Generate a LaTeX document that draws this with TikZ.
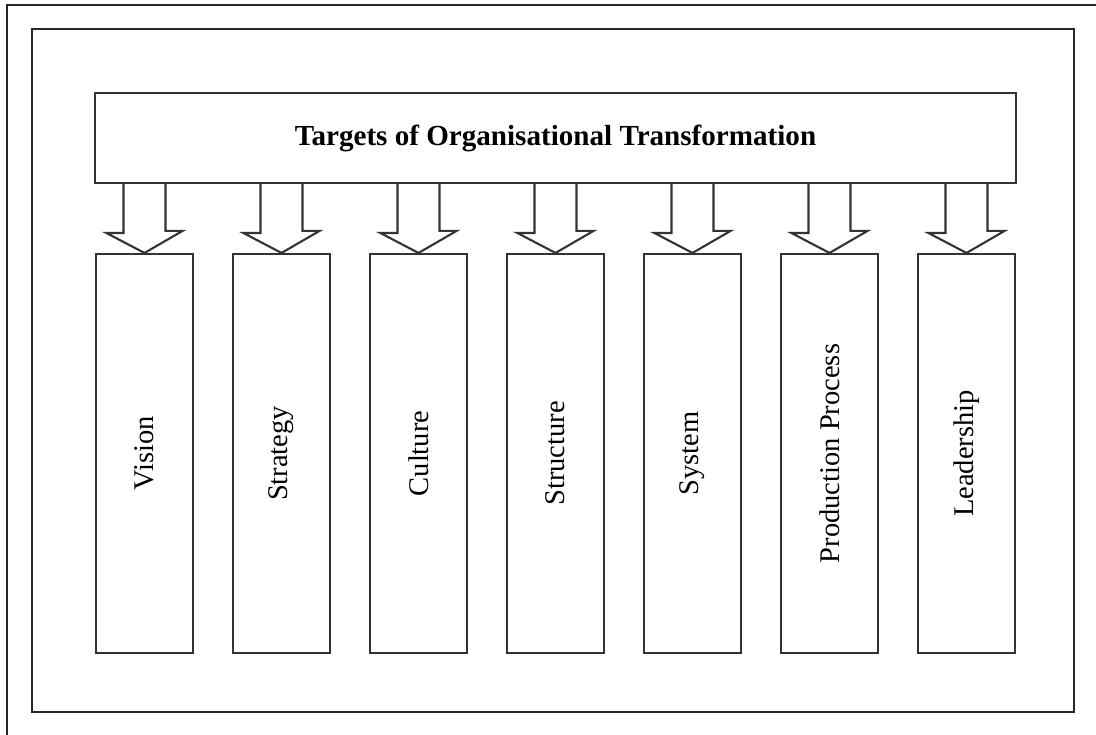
\documentclass[tikz,border=0pt]{standalone}
\usepackage{fontspec}
\setmainfont{Liberation Serif}
\usetikzlibrary{calc}
\begin{document}
\begin{tikzpicture}[x=1pt,y=-1pt,line join=miter,
  frame/.style={draw=black!85,line width=2.3pt},
  box/.style={draw=black!80,line width=2.1pt,fill=white},
  title/.style={box,minimum width=921pt,minimum height=90pt,inner sep=0pt,
    font=\fontsize{29.1}{33}\selectfont\bfseries},
  col/.style={box,minimum width=97pt,minimum height=399pt,inner sep=0pt},
  lbl/.style={font=\fontsize{28.5}{32}\selectfont,rotate=90,inner sep=0pt},
  fat/.style={draw=black!80,line width=2.1pt,fill=white}]
\useasboundingbox (0,0) rectangle (1096,735);
% outer (cropped) frame
\draw[frame] (7,735) -- (7,5) -- (1096,5);
% inner frame
\draw[frame] (32,29) rectangle (1074,712);
% title box
\node[title] (title) at (555.5,138) {Targets of Organisational Transformation};
% columns
\foreach \t [count=\i] in {Vision,Strategy,Culture,Structure,System,Production Process,Leadership} {
  \node[col] (c\i) at ({144.5+137*(\i-1)},453.5) {};
  \node[lbl] (l\i) at (c\i.center) {\t};
  \draw[fat] ($(title.south -| c\i.north)+(-21,0)$) -- ++(0,49) -- ++(-17,0)
     -- (c\i.north) -- ++(38,-22) -- ++(-17,0) -- ($(title.south -| c\i.north)+(21,0)$);
}
\end{tikzpicture}
\end{document}
